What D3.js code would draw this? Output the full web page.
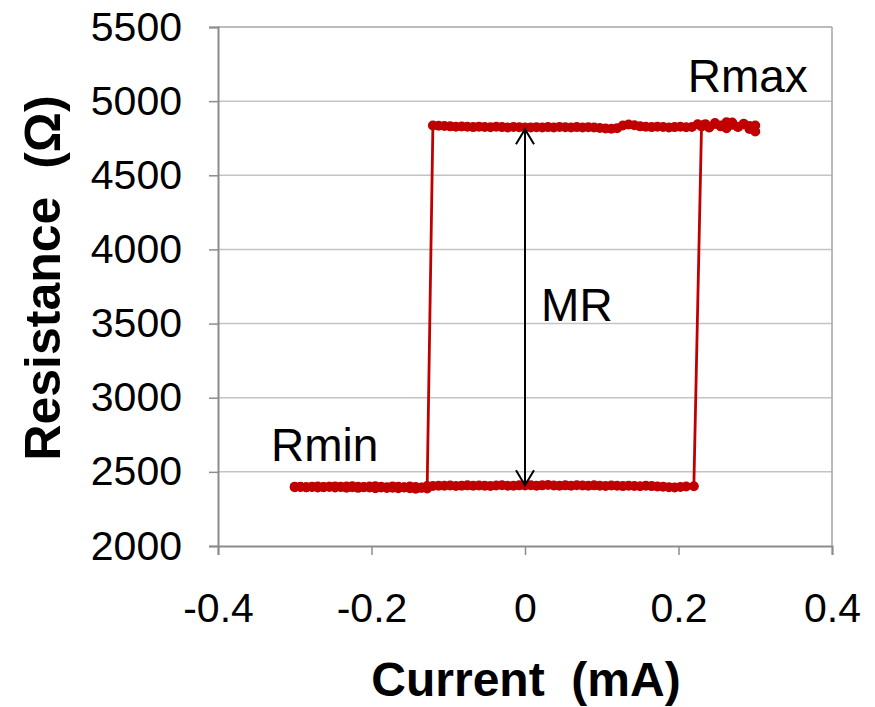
<!DOCTYPE html>
<html>
<head>
<meta charset="utf-8">
<script src="https://cdn.jsdelivr.net/npm/d3@7"></script>
<style>
  html, body { margin: 0; padding: 0; background: #fff; }
  svg { display: block; }
  text { font-family: "Liberation Sans", Arial, sans-serif; white-space: pre; }
</style>
</head>
<body>
<svg id="chart" width="875" height="707"></svg>
<script>
// ---- Data ----
const forwardCurrent = [
  -0.3000,-0.2925,-0.2850,-0.2775,-0.2700,-0.2625,-0.2550,-0.2475,-0.2400,-0.2325,
  -0.2250,-0.2175,-0.2100,-0.2025,-0.1950,-0.1875,-0.1800,-0.1725,-0.1650,-0.1575,
  -0.1500,-0.1425,-0.1350,-0.1275,-0.1200,-0.1125,-0.1050,-0.0975,-0.0900,-0.0825,
  -0.0750,-0.0675,-0.0600,-0.0525,-0.0450,-0.0375,-0.0300,-0.0225,-0.0150,-0.0075,
   0.0000,
   0.0075, 0.0150, 0.0225, 0.0300, 0.0375, 0.0450, 0.0525, 0.0600, 0.0675, 0.0750,
   0.0825, 0.0900, 0.0975, 0.1050, 0.1125, 0.1200, 0.1275, 0.1350, 0.1425, 0.1500,
   0.1575, 0.1650, 0.1725, 0.1800, 0.1875, 0.1950, 0.2025, 0.2100, 0.2200, 0.2300,
   0.2350, 0.2400, 0.2475, 0.2550, 0.2625, 0.2700, 0.2775, 0.2850, 0.2925, 0.3000
];
const forwardR = [
  2400,2398,2396,2399,2401,2398,2400,2402,2399,2401,
  2403,2400,2398,2401,2403,2400,2397,2402,2399,2396,
  2401,2398,2395,2404,
  2405,2407,2406,2408,2405,2407,2409,2406,2408,2407,
  2405,2408,2410,2407,2406,2409,2408,2410,2407,2409,
  2411,2408,2406,2409,2407,2410,2408,2406,2409,2407,
  2405,2408,2406,2404,2407,2405,2403,2406,2404,2402,
  2400,2397,2395,2398,2401,2403,
  4830,4845,4822,4852,4836,4818,4856,4828,4842,4812,4836
];
const backwardCurrent = [
   0.3000, 0.2925, 0.2850, 0.2775, 0.2700, 0.2625, 0.2550, 0.2475, 0.2400, 0.2325,
   0.2250, 0.2175, 0.2100, 0.2025, 0.1950, 0.1875, 0.1800, 0.1725, 0.1650, 0.1575,
   0.1500, 0.1425, 0.1350, 0.1275, 0.1200, 0.1125, 0.1050, 0.0975, 0.0900, 0.0825,
   0.0750, 0.0675, 0.0600, 0.0525, 0.0450, 0.0375, 0.0300, 0.0225, 0.0150, 0.0075,
   0.0000,
  -0.0075,-0.0150,-0.0225,-0.0300,-0.0375,-0.0450,-0.0525,-0.0600,-0.0675,-0.0750,
  -0.0825,-0.0900,-0.0975,-0.1050,-0.1125,-0.1200,-0.1275,-0.1350,-0.1425,-0.1500,
  -0.1575,-0.1650,-0.1725,-0.1800,-0.1875,-0.1950,-0.2025,-0.2100,-0.2175,-0.2250,
  -0.2325,-0.2400,-0.2475,-0.2550,-0.2625,-0.2700,-0.2775,-0.2850,-0.2925,-0.3000
];
const backwardR = [
  4795,4832,4848,4826,4840,4858,4830,4846,4824,4838,
  4844,
  4826,4824,4827,4825,4823,4826,4828,4825,4827,4830,
  4838,4842,4836,4818,4814,4816,4819,4822,4824,4823,
  4825,4822,4824,4826,4823,4825,4822,4824,4823,4822,
  4824,4826,4823,4825,4827,4824,4826,4828,4825,4827,
  4829,4827,4830,4832,4834,4836,
  2388,2392,2386,2390,2394,2389,2393,2391,2395,2390,
  2394,2397,2392,2396,2393,2398,2395,2399,2396,2394,
  2398,2396,2399,2397
];
const xTicks = [-0.4, -0.2, 0, 0.2, 0.4];
const xTickLabels = ["-0.4", "-0.2", "0", "0.2", "0.4"];
const yTicks = [2000, 2500, 3000, 3500, 4000, 4500, 5000, 5500];
const yTickLabels = ["2000", "2500", "3000", "3500", "4000", "4500", "5000", "5500"];
const xTitle = "Current  (mA)";
const yTitle = "Resistance  (\u03A9)";
const annotations = [
  { text: "Rmax", x: 0.212, y: 5060 },
  { text: "MR",   x: 0.021, y: 3520 },
  { text: "Rmin", x: -0.331, y: 2575 }
];
const arrowSpan = { x: 0, from: 2410, to: 4810 };

// ---- Layout ----
const svg = d3.select("#chart");
const margin = { left: 218, right: 43, top: 27, bottom: 161 };
const W = 875, H = 707;
const x = d3.scaleLinear().domain([-0.4, 0.4]).range([margin.left, W - margin.right]);
const y = d3.scaleLinear().domain([2000, 5500]).range([H - margin.bottom, margin.top]);

const axisColor = "#8c8c8c";
const gridColor = "#c4c4c4";
const red = "#c00000";

// gridlines
svg.append("g").selectAll("line").data(yTicks.filter(d => d > 2000 && d < 5500)).join("line")
  .attr("x1", x(-0.4)).attr("x2", x(0.4))
  .attr("y1", d => y(d)).attr("y2", d => y(d))
  .attr("stroke", gridColor).attr("stroke-width", 1.5);

// plot border (top, right)
svg.append("line").attr("x1", x(-0.4)).attr("x2", x(0.4)).attr("y1", y(5500)).attr("y2", y(5500))
  .attr("stroke", "#a6a6a6").attr("stroke-width", 1.5);
svg.append("line").attr("x1", x(0.4)).attr("x2", x(0.4)).attr("y1", y(5500)).attr("y2", y(2000))
  .attr("stroke", "#a6a6a6").attr("stroke-width", 1.5);

// axes
const xAxis = d3.axisBottom(x).tickValues(xTicks).tickFormat((d, i) => xTickLabels[i]).tickSizeOuter(0).tickSize(9).tickPadding(38);
const yAxis = d3.axisLeft(y).tickValues(yTicks).tickFormat((d, i) => yTickLabels[i]).tickSizeOuter(0).tickSize(9).tickPadding(27);

const gx = svg.append("g").attr("transform", `translate(0,${y(2000)})`).call(xAxis);
const gy = svg.append("g").attr("transform", `translate(${x(-0.4)},0)`).call(yAxis);
[gx, gy].forEach(g => {
  g.select(".domain").attr("stroke", axisColor).attr("stroke-width", 2);
  g.selectAll(".tick line").attr("stroke", axisColor).attr("stroke-width", 1.5);
  g.selectAll(".tick text").attr("fill", "#000").style("font-size", "41px")
    .style("font-family", "'Liberation Sans', Arial, sans-serif");
});

// axis titles
svg.append("text").attr("x", 526).attr("y", 696)
  .attr("text-anchor", "middle").style("font-size", "48px").style("font-weight", "bold")
  .text(xTitle);
svg.append("text").attr("transform", `translate(60,278) rotate(-90)`)
  .attr("text-anchor", "middle").style("font-size", "50px").style("font-weight", "bold")
  .text(yTitle);

// data series
const pts = forwardCurrent.map((c, i) => [c, forwardR[i]])
  .concat(backwardCurrent.map((c, i) => [c, backwardR[i]]));

const line = d3.line().x(d => x(d[0])).y(d => y(d[1]));
svg.append("path").datum(pts).attr("d", line)
  .attr("fill", "none").attr("stroke", red).attr("stroke-width", 2.8);
svg.append("g").selectAll("circle").data(pts).join("circle")
  .attr("cx", d => x(d[0])).attr("cy", d => y(d[1])).attr("r", 5)
  .attr("fill", red);

// MR arrow
const defs = svg.append("defs");
defs.append("marker").attr("id", "arrowEnd").attr("viewBox", "0 0 20 20")
  .attr("refX", 18).attr("refY", 10).attr("markerWidth", 20).attr("markerHeight", 20)
  .attr("markerUnits", "userSpaceOnUse").attr("orient", "auto-start-reverse")
  .append("path").attr("d", "M3,1 L18,10 L3,19").attr("fill", "none")
  .attr("stroke", "#000").attr("stroke-width", 2);
svg.append("line")
  .attr("x1", x(arrowSpan.x)).attr("x2", x(arrowSpan.x))
  .attr("y1", y(arrowSpan.from)).attr("y2", y(arrowSpan.to))
  .attr("stroke", "#000").attr("stroke-width", 2)
  .attr("marker-start", "url(#arrowEnd)").attr("marker-end", "url(#arrowEnd)");

// annotations
svg.append("g").selectAll("text").data(annotations).join("text")
  .attr("x", d => x(d.x)).attr("y", d => y(d.y))
  .style("font-size", "46px").attr("fill", "#000")
  .text(d => d.text);
</script>
</body>
</html>
